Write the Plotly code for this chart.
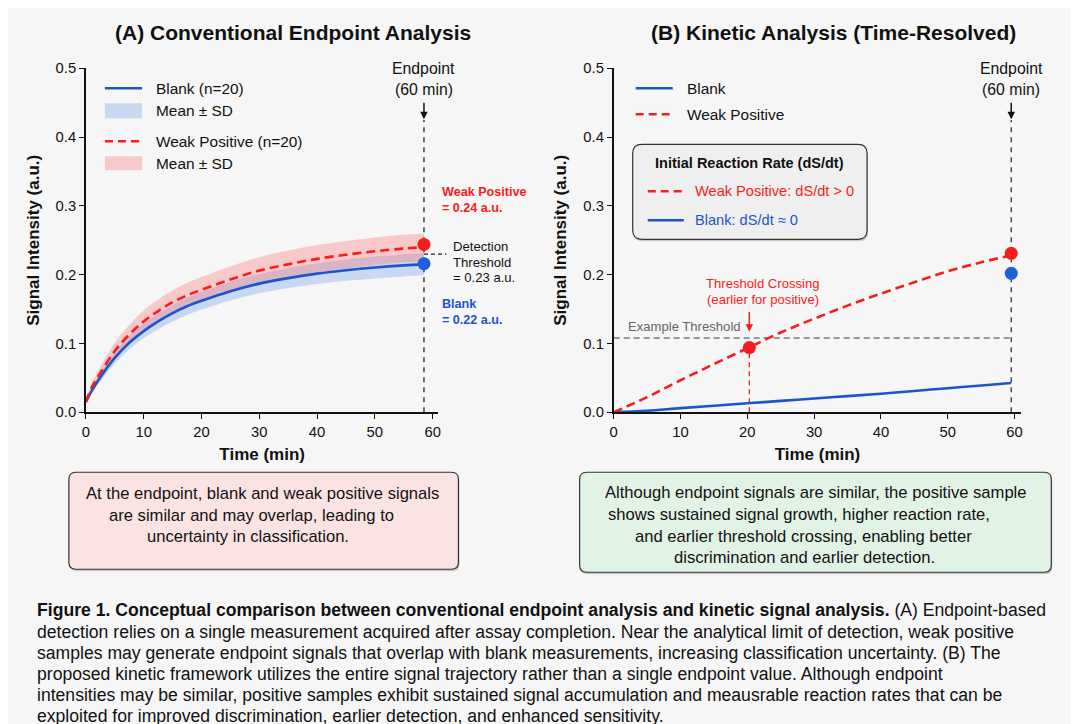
import plotly.graph_objects as go

W, H = 1079, 724

# ---------------- Data: Panel A (Conventional endpoint) ----------------
time_a = [0, 1, 2.5, 5, 7.5, 10, 12.5, 15, 17.5, 20, 25, 30, 35, 40, 45, 50, 55, 58.5]
blank_a = [0.015, 0.031, 0.051, 0.079, 0.101, 0.118, 0.132, 0.144, 0.154, 0.162, 0.176,
           0.187, 0.195, 0.2015, 0.2065, 0.2105, 0.2135, 0.215]
blank_sd_a = [0.002, 0.004, 0.006, 0.008, 0.0095, 0.0105, 0.0115, 0.012, 0.0125, 0.013,
              0.0135, 0.014, 0.0145, 0.015, 0.0155, 0.016, 0.016, 0.016]
weak_a = [0.015, 0.036, 0.057, 0.089, 0.113, 0.132, 0.147, 0.160, 0.170, 0.178, 0.193,
          0.206, 0.215, 0.223, 0.229, 0.234, 0.238, 0.240]
weak_sd_a = [0.003, 0.006, 0.009, 0.012, 0.014, 0.016, 0.017, 0.0175, 0.018, 0.0185,
             0.019, 0.0195, 0.020, 0.020, 0.020, 0.020, 0.020, 0.020]
endpoint_a_time = 58.5
endpoint_a_weak = 0.244
endpoint_a_blank = 0.216
threshold_a = 0.23

# ---------------- Data: Panel B (Kinetic) ----------------
time_b = [0, 5, 10, 15, 20, 25, 30, 35, 40, 45, 50, 55, 59.5]
weak_b = [0, 0.022, 0.0465, 0.070, 0.093, 0.116, 0.136, 0.155, 0.1725, 0.189,
          0.205, 0.218, 0.228]
blank_b = [0, 0.002, 0.006, 0.0095, 0.013, 0.0165, 0.020, 0.0235, 0.027, 0.031,
           0.035, 0.039, 0.0426]
endpoint_b_time = 59.5
endpoint_b_weak = 0.231
endpoint_b_blank = 0.202
crossing_time = 20.3
crossing_value = 0.094
threshold_b = 0.108

x_ticks = [0, 10, 20, 30, 40, 50, 60]
y_ticks = [0.0, 0.1, 0.2, 0.3, 0.4, 0.5]
x_range = [0, 61]
y_range = [0, 0.5]

# ---------------- Styles ----------------
BLUE = "#1b55c9"
BLUE_DOT = "#1f5fd8"
RED = "#f51d1d"
BLUE_BAND = "rgba(95,145,228,0.30)"
RED_BAND = "rgba(255,95,95,0.30)"
FONT = "Liberation Sans, Arial, sans-serif"

# positions are given in target-picture pixels and mapped to paper fractions
SX, CX = 0.993, 13.2
SY, CY = 0.978, 15.7

def px(x):
    return ((x - CX) / SX) / W

def py(y):
    return 1 - ((y - CY) / SY) / H

A_L, A_R = 87, 439
B_L, B_R = 614, 1021
Y_B, Y_T = 412, 68

DOM_A = [px(A_L), px(A_R)]
DOM_B = [px(B_L), px(B_R)]
DOM_Y = [py(Y_B), py(Y_T)]

def xa_to_px(t):
    return A_L + t / (x_range[1] - x_range[0]) * (A_R - A_L)

def xb_to_px(t):
    return B_L + t / (x_range[1] - x_range[0]) * (B_R - B_L)

fig = go.Figure()

SPL = dict(shape="spline", smoothing=1.0)

# Panel A bands
up_b = [m + s for m, s in zip(blank_a, blank_sd_a)]
lo_b = [m - s for m, s in zip(blank_a, blank_sd_a)]
up_w = [m + s for m, s in zip(weak_a, weak_sd_a)]
lo_w = [m - s for m, s in zip(weak_a, weak_sd_a)]
fig.add_trace(go.Scatter(x=time_a, y=up_b, mode="lines", line=dict(width=0, **SPL),
                         hoverinfo="skip", showlegend=False, xaxis="x", yaxis="y"))
fig.add_trace(go.Scatter(x=time_a, y=lo_b, mode="lines", line=dict(width=0, **SPL),
                         fill="tonexty", fillcolor=BLUE_BAND, hoverinfo="skip",
                         showlegend=False, xaxis="x", yaxis="y"))
fig.add_trace(go.Scatter(x=time_a, y=up_w, mode="lines", line=dict(width=0, **SPL),
                         hoverinfo="skip", showlegend=False, xaxis="x", yaxis="y"))
fig.add_trace(go.Scatter(x=time_a, y=lo_w, mode="lines", line=dict(width=0, **SPL),
                         fill="tonexty", fillcolor=RED_BAND, hoverinfo="skip",
                         showlegend=False, xaxis="x", yaxis="y"))
# Panel A lines
fig.add_trace(go.Scatter(x=time_a, y=blank_a, mode="lines",
                         line=dict(color=BLUE, width=2.6, **SPL),
                         showlegend=False, xaxis="x", yaxis="y"))
fig.add_trace(go.Scatter(x=time_a, y=weak_a, mode="lines",
                         line=dict(color=RED, width=2.6, dash="9px,5px", **SPL),
                         showlegend=False, xaxis="x", yaxis="y"))
# Panel A endpoint dashed line and markers
fig.add_trace(go.Scatter(x=[endpoint_a_time, endpoint_a_time], y=[0, 0.425], mode="lines",
                         line=dict(color="#222", width=1.3, dash="5px,5px"),
                         showlegend=False, xaxis="x", yaxis="y"))
fig.add_trace(go.Scatter(x=[endpoint_a_time, endpoint_a_time], y=[endpoint_a_weak, endpoint_a_blank],
                         mode="markers", marker=dict(color=[RED, BLUE_DOT], size=13),
                         cliponaxis=False, showlegend=False, xaxis="x", yaxis="y"))

# Panel B
fig.add_trace(go.Scatter(x=[0, endpoint_b_time], y=[threshold_b, threshold_b], mode="lines",
                         line=dict(color="#7a7a7a", width=1.4, dash="6px,4px"),
                         showlegend=False, xaxis="x2", yaxis="y2"))
fig.add_trace(go.Scatter(x=[endpoint_b_time, endpoint_b_time], y=[0, 0.425], mode="lines",
                         line=dict(color="#333", width=1.3, dash="5px,5px"),
                         showlegend=False, xaxis="x2", yaxis="y2"))
fig.add_trace(go.Scatter(x=[crossing_time, crossing_time], y=[0, crossing_value], mode="lines",
                         line=dict(color=RED, width=1.3, dash="5px,4px"),
                         showlegend=False, xaxis="x2", yaxis="y2"))
fig.add_trace(go.Scatter(x=time_b, y=blank_b, mode="lines",
                         line=dict(color=BLUE, width=2.6, **SPL),
                         showlegend=False, xaxis="x2", yaxis="y2"))
fig.add_trace(go.Scatter(x=time_b, y=weak_b, mode="lines",
                         line=dict(color=RED, width=2.6, dash="9px,5px", **SPL),
                         showlegend=False, xaxis="x2", yaxis="y2"))
fig.add_trace(go.Scatter(x=[crossing_time, endpoint_b_time, endpoint_b_time],
                         y=[crossing_value, endpoint_b_weak, endpoint_b_blank],
                         mode="markers", marker=dict(color=[RED, RED, BLUE_DOT], size=13),
                         cliponaxis=False, showlegend=False, xaxis="x2", yaxis="y2"))

TICKFONT = dict(family=FONT, size=14.8, color="#111")
axis_common = dict(range=x_range, tickvals=x_ticks, showline=True, linecolor="#111",
                   linewidth=1.6, ticks="outside", ticklen=5, tickwidth=1.3, tickcolor="#111",
                   showgrid=False, zeroline=False, tickfont=TICKFONT)
yaxis_common = dict(range=y_range, tickvals=y_ticks, tickformat=".1f", showline=True,
                    linecolor="#111", linewidth=1.6, ticks="outside", ticklen=5, tickwidth=1.3,
                    tickcolor="#111", showgrid=False, zeroline=False, tickfont=TICKFONT)

shapes = []

def rrect(x0, y0, x1, y1, r):
    X = lambda v: px(v)
    Y = lambda v: py(v)
    return (f"M {X(x0+r)},{Y(y0)} L {X(x1-r)},{Y(y0)} Q {X(x1)},{Y(y0)} {X(x1)},{Y(y0+r)} "
            f"L {X(x1)},{Y(y1-r)} Q {X(x1)},{Y(y1)} {X(x1-r)},{Y(y1)} "
            f"L {X(x0+r)},{Y(y1)} Q {X(x0)},{Y(y1)} {X(x0)},{Y(y1-r)} "
            f"L {X(x0)},{Y(y0+r)} Q {X(x0)},{Y(y0)} {X(x0+r)},{Y(y0)} Z")

def rbox(x0, y0, x1, y1, fill, r=7):
    shapes.append(dict(type="path", xref="paper", yref="paper",
                       path=rrect(x0 + 1, y0 + 2, x1 + 1, y1 + 2, r),
                       fillcolor="rgba(0,0,0,0.18)", line=dict(width=0), layer="below"))
    shapes.append(dict(type="path", xref="paper", yref="paper", path=rrect(x0, y0, x1, y1, r),
                       fillcolor=fill, line=dict(color="#333", width=1.2), layer="below"))

rbox(70, 472, 459, 569, "#fce3e3")
rbox(580, 472, 1051, 572, "#e1f3e5")
rbox(633, 144, 867, 239, "#efefef", r=9)

def hline(x0, x1, y, color, width=2.6, dash="solid"):
    shapes.append(dict(type="line", xref="paper", yref="paper", x0=px(x0), x1=px(x1),
                       y0=py(y), y1=py(y), line=dict(color=color, width=width, dash=dash)))

def patch(x0, x1, y0, y1, color):
    shapes.append(dict(type="rect", xref="paper", yref="paper", x0=px(x0), x1=px(x1),
                       y0=py(y1), y1=py(y0), fillcolor=color, line=dict(width=0)))

# Legend A
hline(106, 143, 88, BLUE)
patch(106, 143, 103, 118, BLUE_BAND)
hline(106, 143, 141, RED, dash="8px,5px")
patch(106, 143, 156, 170, RED_BAND)
# Legend B
hline(636, 673, 88, BLUE)
hline(636, 673, 114, RED, dash="8px,5px")
# Box B samples
hline(648, 684, 191, RED, dash="8px,5px")
hline(648, 684, 220, BLUE)
# Detection threshold tick (A)
ex = xa_to_px(endpoint_a_time)
shapes.append(dict(type="line", xref="paper", yref="y", x0=px(ex), x1=px(447),
                   y0=threshold_a, y1=threshold_a, line=dict(color="#222", width=1.2, dash="4px,3px")))

ann = []

def txt(x, y, s, size=15.4, color="#111", anchor="left", bold=False):
    if bold:
        s = "<b>" + s + "</b>"
    ann.append(dict(x=px(x), y=py(y), xref="paper", yref="paper", text=s, showarrow=False,
                    xanchor=anchor, yanchor="middle",
                    font=dict(family=FONT, size=size, color=color)))

# Titles
txt(294, 32, "(A) Conventional Endpoint Analysis", size=21, anchor="center", bold=True)
txt(834, 32, "(B) Kinetic Analysis (Time-Resolved)", size=21, anchor="center", bold=True)

# Legend A text
txt(155, 88, "Blank (n=20)")
txt(155, 110, "Mean ± SD")
txt(155, 141, "Weak Positive (n=20)")
txt(155, 163, "Mean ± SD")
# Legend B text
txt(685, 88, "Blank")
txt(685, 114, "Weak Positive")
txt(750, 163, "Initial Reaction Rate (dS/dt)", size=14.5, anchor="center", bold=True)
txt(693, 191, "Weak Positive: dS/dt > 0", size=14.6, color=RED)
txt(693, 220, "Blank: dS/dt ≈ 0", size=14.6, color=BLUE)

# Endpoint labels
txt(ex, 68, "Endpoint", size=15.8, anchor="center")
txt(ex, 89, "(60 min)", size=15.8, anchor="center")
exb = xb_to_px(endpoint_b_time)
txt(exb, 68, "Endpoint", size=15.8, anchor="center")
txt(exb, 89, "(60 min)", size=15.8, anchor="center")

# A value labels
txt(441, 192, "Weak Positive", size=12.6, color=RED, bold=True)
txt(441, 208, "= 0.24 a.u.", size=12.6, color=RED, bold=True)
txt(452, 246, "Detection", size=13.1)
txt(452, 262, "Threshold", size=13.1)
txt(452, 277, "= 0.23 a.u.", size=13.1)
txt(441, 304, "Blank", size=12.6, color=BLUE, bold=True)
txt(441, 320, "= 0.22 a.u.", size=12.6, color=BLUE, bold=True)

# B labels
txt(763, 283, "Threshold Crossing", size=13.1, color=RED, anchor="center")
txt(763, 299, "(earlier for positive)", size=13.1, color=RED, anchor="center")
txt(626, 326, "Example Threshold", size=13.1, color="#666")

# Arrows
ann.append(dict(x=endpoint_a_time, y=0.426, xref="x", yref="y", ax=endpoint_a_time, ay=0.452,
                axref="x", ayref="y", text="", showarrow=True, arrowhead=2, arrowsize=1,
                arrowwidth=1.5, arrowcolor="#111"))
ann.append(dict(x=endpoint_b_time, y=0.426, xref="x2", yref="y2", ax=endpoint_b_time, ay=0.452,
                axref="x2", ayref="y2", text="", showarrow=True, arrowhead=2, arrowsize=1,
                arrowwidth=1.5, arrowcolor="#111"))
ann.append(dict(x=crossing_time, y=0.117, xref="x2", yref="y2", ax=crossing_time, ay=0.148,
                axref="x2", ayref="y2", text="", showarrow=True, arrowhead=2, arrowsize=1,
                arrowwidth=1.5, arrowcolor=RED))

# Box texts
for cx, y, s in zip([263, 252, 249], [493, 515, 536],
                    ["At the endpoint, blank and weak positive signals",
                     "are similar and may overlap, leading to",
                     "uncertainty in classification."]):
    txt(cx, y, s, size=16.6, anchor="center")
for cx, y, s in zip([816, 799, 804, 805], [492, 514, 536, 557],
                    ["Although endpoint signals are similar, the positive sample",
                     "shows sustained signal growth, higher reaction rate,",
                     "and earlier threshold crossing, enabling better",
                     "discrimination and earlier detection."]):
    txt(cx, y, s, size=16.6, anchor="center")

# Caption
cap = [
    "<b>Figure 1.</b> <b>Conceptual comparison between conventional endpoint analysis and kinetic signal analysis.</b> (A) Endpoint-based",
    "detection relies on a single measurement acquired after assay completion. Near the analytical limit of detection, weak positive",
    "samples may generate endpoint signals that overlap with blank measurements, increasing classification uncertainty. (B) The",
    "proposed kinetic framework utilizes the entire signal trajectory rather than a single endpoint value. Although endpoint",
    "intensities may be similar, positive samples exhibit sustained signal accumulation and meausrable reaction rates that can be",
    "exploited for improved discrimination, earlier detection, and enhanced sensitivity.",
]
for y, s in zip([610, 632, 653, 674, 695, 716], cap):
    txt(36, y, s, size=17.6, color="#111")

AXTITLE = dict(family=FONT, size=17)
fig.update_layout(
    width=W, height=H, autosize=False,
    margin=dict(l=0, r=0, t=0, b=0),
    paper_bgcolor="#f6f6f6", plot_bgcolor="rgba(0,0,0,0)",
    showlegend=False,
    font=dict(family=FONT, color="#111"),
    xaxis=dict(domain=DOM_A, anchor="y", **axis_common,
               title=dict(text="<b>Time (min)</b>", font=AXTITLE, standoff=9)),
    yaxis=dict(domain=DOM_Y, anchor="x", **yaxis_common,
               title=dict(text="<b>Signal Intensity (a.u.)</b>", font=AXTITLE, standoff=12)),
    xaxis2=dict(domain=DOM_B, anchor="y2", **axis_common,
                title=dict(text="<b>Time (min)</b>", font=AXTITLE, standoff=9)),
    yaxis2=dict(domain=DOM_Y, anchor="x2", **yaxis_common,
                title=dict(text="<b>Signal Intensity (a.u.)</b>", font=AXTITLE, standoff=12)),
    shapes=shapes,
    annotations=ann,
)

fig.write_html("out.html")
